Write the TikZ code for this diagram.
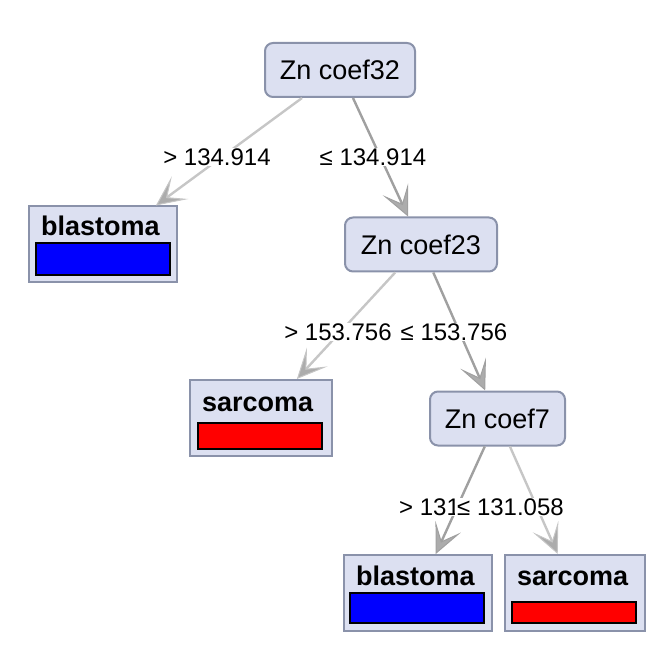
\documentclass[tikz,border=0pt]{standalone}
\usepackage{fontspec}
\setmainfont{Liberation Sans}
\usepackage{xcolor}
\usetikzlibrary{arrows.meta}
\definecolor{boxfill}{HTML}{DCE0F1}
\definecolor{boxline}{HTML}{8A92AA}
\definecolor{edgelight}{HTML}{C6C6C6}
\definecolor{edgedark}{HTML}{A0A0A0}

\begin{document}
\begin{tikzpicture}[x=1pt,y=-1pt,
    split/.style={draw=boxline,fill=boxfill,line width=2pt,rounded corners=8pt,
      minimum height=54pt,inner sep=0pt,font=\fontsize{27}{30}\selectfont},
    leaf/.style={draw=boxline,fill=boxfill,line width=2pt,minimum height=76pt,
      inner sep=0pt},
    leaftext/.style={anchor=base west,inner sep=0pt,
      font=\fontsize{27}{30}\selectfont\bfseries},
    bar/.style={draw=black,line width=1.6pt,inner sep=0pt},
    edge/.style={line width=2.4pt,
      -{Stealth[length=30pt,width=28pt,inset=16pt,fill=gray!65,line width=1pt]}},
    cond/.style={fill=white,inner sep=1pt,font=\fontsize{24}{28}\selectfont}]
  \useasboundingbox (0,0) rectangle (670,647);

  % split nodes
  \node[split,minimum width=150pt] (root) at (340,70) {Zn coef32};
  \node[split,minimum width=152pt] (c23) at (421,244.5) {Zn coef23};
  \node[split,minimum width=135pt] (c7) at (497.5,418.5) {Zn coef7};

  % leaves
  \node[leaf,minimum width=148pt] (blast1) at (103,244.5) {};
  \node[leaftext] (blast1lab) at (41,236) {blastoma};
  \node[bar,fill=blue,minimum width=134pt,minimum height=32pt] (blast1bar) at (103,259) {};

  \node[leaf,minimum width=142pt] (sarc1) at (261,418) {};
  \node[leaftext] (sarc1lab) at (202,411) {sarcoma};
  \node[bar,fill=red,minimum width=124pt,minimum height=26pt] (sarc1bar) at (260,436) {};

  \node[leaf,minimum width=148pt] (blast2) at (418,593) {};
  \node[leaftext] (blast2lab) at (356,585) {blastoma};
  \node[bar,fill=blue,minimum width=134pt,minimum height=30pt] (blast2bar) at (417,608) {};

  \node[leaf,minimum width=140pt] (sarc2) at (575,593) {};
  \node[leaftext] (sarc2lab) at (517,585) {sarcoma};
  \node[bar,fill=red,minimum width=124pt,minimum height=21pt] (sarc2bar) at (574,612.5) {};

  % edges
  \draw[edge,edgelight] (root) -- (blast1);
  \draw[edge,edgedark] (root) -- (c23);
  \draw[edge,edgelight] (c23) -- (sarc1);
  \draw[edge,edgedark] (c23) -- (c7);
  \draw[edge,edgedark] (c7) -- (blast2);
  \draw[edge,edgelight] (c7) -- (sarc2);

  % conditions
  \node[cond] (l1) at (217,157) {> 134.914};
  \node[cond] (r1) at (373,157) {≤ 134.914};
  \node[cond] (l2) at (338,332) {> 153.756};
  \node[cond] (r2) at (454,332) {≤ 153.756};
  \node[cond,anchor=west] (l3) at (398,507) {> 131.058};
  \node[cond,anchor=west,inner xsep=2pt] (r3) at (455,507) {≤ 131.058};
\end{tikzpicture}
\end{document}
